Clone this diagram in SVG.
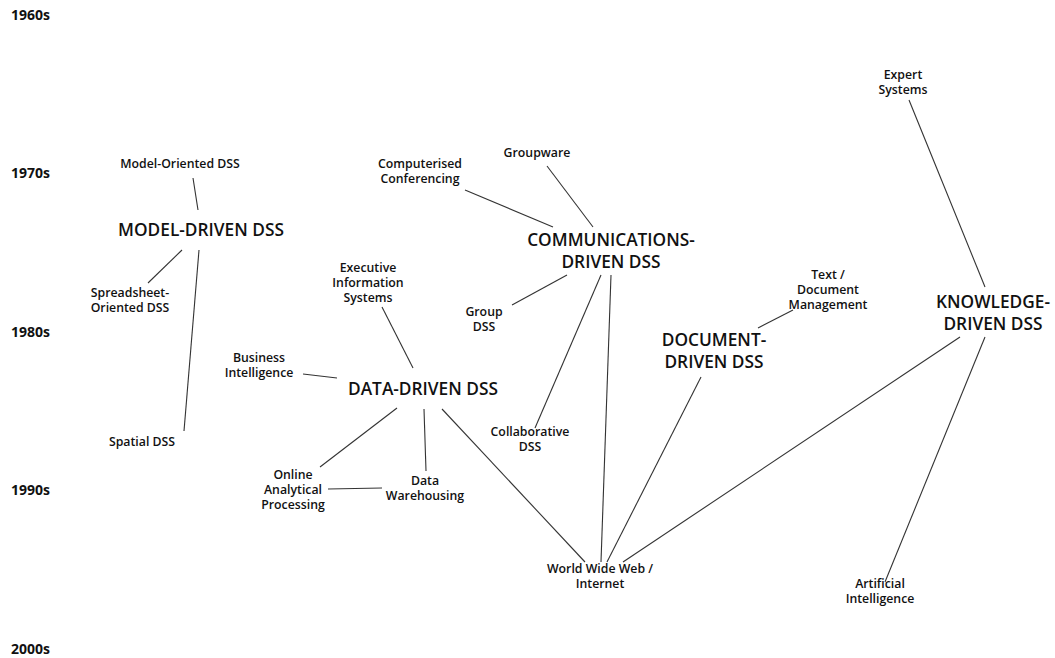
<svg xmlns="http://www.w3.org/2000/svg" width="1055" height="658" viewBox="0 0 1055 658">
<style>
text{font-family:"Open Sans","Liberation Sans",sans-serif;fill:#111;text-anchor:middle}
.dec{font-size:14px;font-weight:700;text-anchor:start}
.s{font-size:12.3px;font-weight:600}
.b{font-size:17.3px;font-weight:600}
line{stroke:#333;stroke-width:1.1}
</style>
<rect width="1055" height="658" fill="#fff"/>
<g id="decades">
<text class="dec" x="11" y="20">1960s</text>
<text class="dec" x="11" y="178">1970s</text>
<text class="dec" x="11" y="337">1980s</text>
<text class="dec" x="11" y="495">1990s</text>
<text class="dec" x="11" y="654">2000s</text>
</g>
<g id="connectors">
<line x1="193" y1="178" x2="198" y2="210"/>
<line x1="182" y1="250" x2="148" y2="283"/>
<line x1="199" y1="250" x2="184" y2="431"/>
<line x1="303" y1="374" x2="337" y2="378"/>
<line x1="382" y1="307" x2="413" y2="368"/>
<line x1="397" y1="408" x2="320" y2="467"/>
<line x1="424" y1="409" x2="426" y2="471"/>
<line x1="442" y1="409" x2="585" y2="562"/>
<line x1="328" y1="489" x2="382" y2="488"/>
<line x1="465" y1="190" x2="553" y2="227"/>
<line x1="547" y1="166" x2="593" y2="227"/>
<line x1="567" y1="275" x2="512" y2="305"/>
<line x1="601" y1="275" x2="535" y2="428"/>
<line x1="611" y1="275" x2="601" y2="562"/>
<line x1="758" y1="328" x2="793" y2="310"/>
<line x1="701" y1="377" x2="607" y2="562"/>
<line x1="960" y1="337" x2="623" y2="562"/>
<line x1="909" y1="100" x2="985" y2="287"/>
<line x1="985" y1="337" x2="885" y2="582"/>
</g>
<g id="model-driven"><text class="b" x="201" y="236">MODEL-DRIVEN DSS</text></g>
<g id="model-oriented"><text class="s" x="180" y="168">Model-Oriented DSS</text></g>
<g id="spreadsheet"><text class="s" x="130" y="297">Spreadsheet-</text><text class="s" x="130" y="312">Oriented DSS</text></g>
<g id="spatial"><text class="s" x="142" y="446">Spatial DSS</text></g>
<g id="business-intelligence"><text class="s" x="259" y="362">Business</text><text class="s" x="259" y="377">Intelligence</text></g>
<g id="eis"><text class="s" x="368" y="272">Executive</text><text class="s" x="368" y="287">Information</text><text class="s" x="368" y="302">Systems</text></g>
<g id="data-driven"><text class="b" x="423" y="395">DATA-DRIVEN DSS</text></g>
<g id="olap"><text class="s" x="293" y="479">Online</text><text class="s" x="293" y="494">Analytical</text><text class="s" x="293" y="509">Processing</text></g>
<g id="data-warehousing"><text class="s" x="425" y="485">Data</text><text class="s" x="425" y="500">Warehousing</text></g>
<g id="computerised-conferencing"><text class="s" x="420" y="168">Computerised</text><text class="s" x="420" y="183">Conferencing</text></g>
<g id="groupware"><text class="s" x="537" y="157">Groupware</text></g>
<g id="communications-driven"><text class="b" x="611" y="246">COMMUNICATIONS-</text><text class="b" x="611" y="268">DRIVEN DSS</text></g>
<g id="group-dss"><text class="s" x="484" y="316">Group</text><text class="s" x="484" y="331">DSS</text></g>
<g id="collaborative-dss"><text class="s" x="530" y="436">Collaborative</text><text class="s" x="530" y="451">DSS</text></g>
<g id="www"><text class="s" x="600" y="573">World Wide Web /</text><text class="s" x="600" y="588">Internet</text></g>
<g id="document-driven"><text class="b" x="714" y="346">DOCUMENT-</text><text class="b" x="714" y="368">DRIVEN DSS</text></g>
<g id="text-document"><text class="s" x="828" y="279">Text /</text><text class="s" x="828" y="294">Document</text><text class="s" x="828" y="309">Management</text></g>
<g id="knowledge-driven"><text class="b" x="993" y="308">KNOWLEDGE-</text><text class="b" x="993" y="330">DRIVEN DSS</text></g>
<g id="expert-systems"><text class="s" x="903" y="79">Expert</text><text class="s" x="903" y="94">Systems</text></g>
<g id="ai"><text class="s" x="880" y="588">Artificial</text><text class="s" x="880" y="603">Intelligence</text></g>
</svg>
